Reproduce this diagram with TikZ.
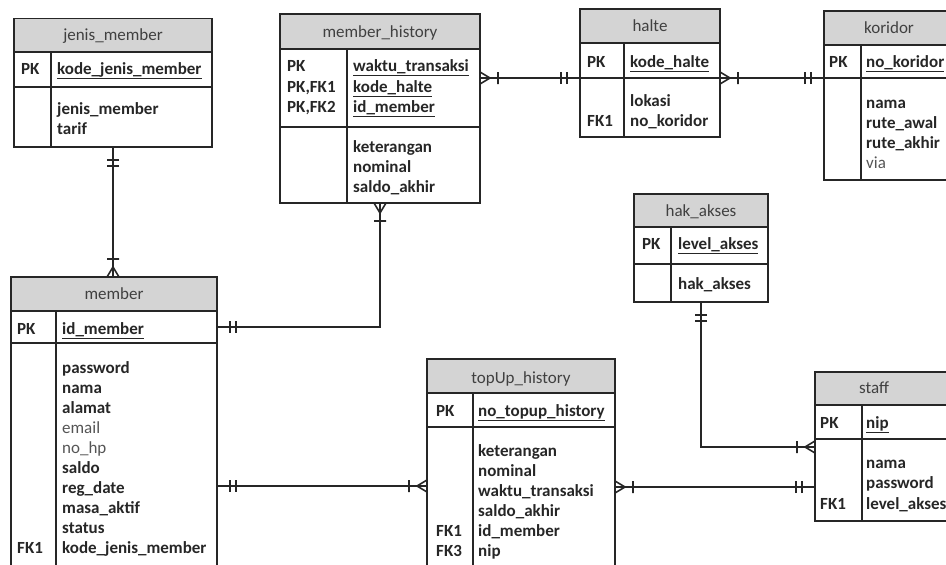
\documentclass[tikz,border=0pt]{standalone}
\usepackage{fontspec}
\setmainfont{Carlito}
\usetikzlibrary{calc}
\definecolor{hdrfill}{HTML}{D4D4D4}
\definecolor{ink}{HTML}{262626}
\definecolor{hdrtxt}{HTML}{404040}
\definecolor{lite}{HTML}{555555}
\tikzset{
  part/.style={draw=ink, line width=1.2pt, inner sep=0pt, outer sep=0pt, anchor=north west},
  hdr/.style={part, fill=hdrfill},
  htxt/.style={font=\fontsize{17}{20}\selectfont, text=hdrtxt, inner sep=0pt, anchor=base},
  ftxt/.style={font=\fontsize{17}{20}\selectfont\bfseries, text=ink, inner sep=0pt, anchor=base west},
  ltxt/.style={font=\fontsize{17}{20}\selectfont, text=lite, inner sep=0pt, anchor=base west},
  rel/.style={draw=ink, line width=1.6pt},
  divl/.style={draw=ink, line width=1.2pt},
  oneone/.pic={\draw[rel] (13,-6) -- (13,6) (19,-6) -- (19,6);},
  onemany/.pic={\draw[rel] (0,-6) -- (10,0) -- (0,6) (0,0) -- (10,0) (18,-6) -- (18,6);},
}
% name, x0, y0, x1, yh, yk, y1, xd
\newcommand{\ertable}[8]{%
  \node[hdr, minimum width={#4-#2}, minimum height={#5-#3}] (#1-h) at (#2,#3) {};
  \node[part, minimum width={#4-#2}, minimum height={#6-#5}] (#1-k) at (#2,#5) {};
  \node[part, minimum width={#4-#2}, minimum height={#7-#6}] (#1-b) at (#2,#6) {};
  \draw[divl] (#8,#5) -- (#8,#7);
}
\begin{document}
\begin{tikzpicture}[x=1pt,y=-1pt]
\useasboundingbox (0,0) rectangle (946,565);
\clip (0,0) rectangle (946,565);

% jenis_member
\ertable{jm}{14}{18.5}{212}{52}{87}{147}{51}
\node[htxt] (jm-t) at (113,40) {jenis\_member};
\node[ftxt] (jm-pk) at (21,74) {PK};
\node[ftxt] (jm-f0) at (57,74) {\underline{kode\_jenis\_member}};
\node[ftxt] (jm-f1) at (57,114) {jenis\_member};
\node[ftxt] (jm-f2) at (57,134) {tarif};

% member_history
\ertable{mh}{280}{14}{480}{49}{127}{203}{347}
\node[htxt] (mh-t) at (380,37) {member\_history};
\node[ftxt] (mh-k1) at (287,71) {PK};
\node[ftxt] (mh-k2) at (287,92) {PK,FK1};
\node[ftxt] (mh-k3) at (287,112) {PK,FK2};
\node[ftxt] (mh-f1) at (353,71) {\underline{waktu\_transaksi}};
\node[ftxt] (mh-f2) at (353,92) {\underline{kode\_halte}};
\node[ftxt] (mh-f3) at (353,112) {\underline{id\_member}};
\node[ftxt] (mh-f4) at (353,152) {keterangan};
\node[ftxt] (mh-f5) at (353,172) {nominal};
\node[ftxt] (mh-f6) at (353,192) {saldo\_akhir};

% halte
\ertable{ha}{580}{9}{720}{43}{78}{137}{624}
\node[htxt] (ha-t) at (650,31) {halte};
\node[ftxt] (ha-pk) at (587,67) {PK};
\node[ftxt] (ha-f0) at (630,67) {\underline{kode\_halte}};
\node[ftxt] (ha-f1) at (630,106) {lokasi};
\node[ftxt] (ha-f2) at (630,126) {no\_koridor};
\node[ftxt] (ha-fk) at (587,126) {FK1};

% koridor
\ertable{ko}{824}{11}{955}{45}{78}{180}{861}
\node[htxt] (ko-t) at (889,33) {koridor};
\node[ftxt] (ko-pk) at (829,67) {PK};
\node[ftxt] (ko-f0) at (866,67) {\underline{no\_koridor}};
\node[ftxt] (ko-f1) at (866,108) {nama};
\node[ftxt] (ko-f2) at (866,128) {rute\_awal};
\node[ftxt] (ko-f3) at (866,148) {rute\_akhir};
\node[ltxt] (ko-f4) at (866,168) {via};

% hak_akses
\ertable{hk}{634}{194}{768}{227}{264}{302}{671}
\node[htxt] (hk-t) at (701,216) {hak\_akses};
\node[ftxt] (hk-pk) at (642,249) {PK};
\node[ftxt] (hk-f0) at (678,249) {\underline{level\_akses}};
\node[ftxt] (hk-f1) at (678,289) {hak\_akses};

% member
\ertable{mem}{11}{277}{217}{311}{343}{575}{56}
\node[htxt] (mem-t) at (114,299) {member};
\node[ftxt] (mem-pk) at (17,334) {PK};
\node[ftxt] (mem-f0) at (62,334) {\underline{id\_member}};
\node[ftxt] (mem-f1) at (62,373) {password};
\node[ftxt] (mem-f2) at (62,393) {nama};
\node[ftxt] (mem-f3) at (62,413) {alamat};
\node[ltxt] (mem-f4) at (62,433) {email};
\node[ltxt] (mem-f5) at (62,453) {no\_hp};
\node[ftxt] (mem-f6) at (62,473) {saldo};
\node[ftxt] (mem-f7) at (62,493) {reg\_date};
\node[ftxt] (mem-f8) at (62,513) {masa\_aktif};
\node[ftxt] (mem-f9) at (62,533) {status};
\node[ftxt] (mem-f10) at (62,553) {kode\_jenis\_member};
\node[ftxt] (mem-fk) at (17,553) {FK1};

% topUp_history
\ertable{tu}{427}{359}{615}{393}{427}{575}{473}
\node[htxt] (tu-t) at (521,383) {topUp\_history};
\node[ftxt] (tu-pk) at (436,416) {PK};
\node[ftxt] (tu-f0) at (478,416) {\underline{no\_topup\_history}};
\node[ftxt] (tu-f1) at (478,456) {keterangan};
\node[ftxt] (tu-f2) at (478,476) {nominal};
\node[ftxt] (tu-f3) at (478,496) {waktu\_transaksi};
\node[ftxt] (tu-f4) at (478,516) {saldo\_akhir};
\node[ftxt] (tu-f5) at (478,536) {id\_member};
\node[ftxt] (tu-f6) at (478,556) {nip};
\node[ftxt] (tu-fk1) at (436,536) {FK1};
\node[ftxt] (tu-fk3) at (436,556) {FK3};

% staff
\ertable{st}{815}{372}{955}{405}{439}{521}{862}
\node[htxt] (st-t) at (874,393) {staff};
\node[ftxt] (st-pk) at (820,428) {PK};
\node[ftxt] (st-f0) at (866,428) {\underline{nip}};
\node[ftxt] (st-f1) at (866,468) {nama};
\node[ftxt] (st-f2) at (866,488) {password};
\node[ftxt] (st-f3) at (866,509) {level\_akses};
\node[ftxt] (st-fk) at (820,509) {FK1};

% relationships
% jenis_member -- member
\coordinate (c1) at (jm-b.south |- mem-h.north);
\draw[rel] (jm-b.south) -- (c1);
\pic[rotate=-90] at (jm-b.south) {oneone};
\pic[rotate=90] at (c1) {onemany};

% member_history -- member
\draw[rel] (mh-b.south) |- (mem-k.east);
\pic[rotate=-90] at (mh-b.south) {onemany};
\pic at (mem-k.east) {oneone};

% member_history -- halte
\coordinate (c3) at (mh-k.east |- ha-k.south west);
\draw[rel] (c3) -- (ha-k.south west);
\pic at (c3) {onemany};
\pic[rotate=180] at (ha-k.south west) {oneone};

% halte -- koridor
\draw[rel] (ha-k.south east) -- (ko-k.south west);
\pic at (ha-k.south east) {onemany};
\pic[rotate=180] at (ko-k.south west) {oneone};

% hak_akses -- staff
\coordinate (c5) at ($(st-b.north west)+(0,8)$);
\draw[rel] (hk-b.south) |- (c5);
\pic[rotate=-90] at (hk-b.south) {oneone};
\pic[rotate=180] at (c5) {onemany};

% member -- topUp_history
\coordinate (c6) at ($(tu-b.north west)+(0,59)$);
\draw[rel] (mem-b.east |- c6) -- (c6);
\pic at (mem-b.east |- c6) {oneone};
\pic[rotate=180] at (c6) {onemany};

% topUp_history -- staff
\coordinate (c7) at ($(st-b.north west)+(0,48)$);
\draw[rel] (tu-b.east |- c7) -- (c7);
\pic at (tu-b.east |- c7) {onemany};
\pic[rotate=180] at (c7) {oneone};
\end{tikzpicture}
\end{document}
